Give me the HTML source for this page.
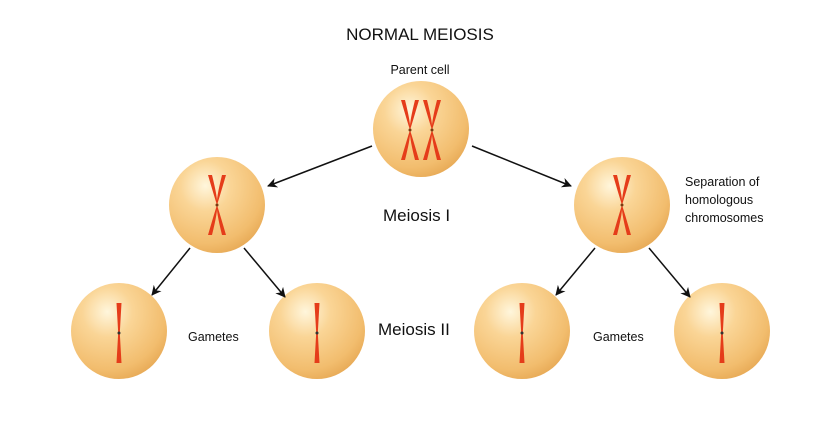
<!DOCTYPE html>
<html><head><style>body{margin:0;background:#fff}svg{display:block}</style></head><body>
<svg width="819" height="432" viewBox="0 0 819 432" xmlns="http://www.w3.org/2000/svg" font-family="Liberation Sans, sans-serif">
<defs>
<radialGradient id="g" cx="0.38" cy="0.3" r="0.75">
<stop offset="0" stop-color="#fff6dc"/><stop offset="0.35" stop-color="#fad596"/><stop offset="0.8" stop-color="#f2bd6e"/><stop offset="1" stop-color="#e7a955"/>
</radialGradient>
<marker id="a" markerWidth="10" markerHeight="10" refX="9" refY="5" orient="auto" markerUnits="userSpaceOnUse"><path d="M0,0 L10,5 L0,10 L3,5z" fill="#111"/></marker>
<g id="x"><path d="M-9,-30 Q-2,-6 0,0 Q-2,6 -9,30 L-5,30 Q1,6 0,0 Q1,-6 -5,-30z" fill="#e53c1a"/><path d="M9,-30 Q2,-6 0,0 Q2,6 9,30 L5,30 Q-1,6 0,0 Q-1,-6 5,-30z" fill="#e53c1a"/><circle r="1.5" fill="#7a3a10"/></g>
<g id="b"><path d="M-2.5,-30 L2.5,-30 L0.8,0 L2.5,30 L-2.5,30 L-0.8,0z" fill="#e53c1a"/><circle r="1.5" fill="#333"/></g>
</defs>
<text x="420" y="40" font-size="17" text-anchor="middle" fill="#111">NORMAL MEIOSIS</text>
<text x="420" y="74" font-size="12.5" text-anchor="middle" fill="#111">Parent cell</text>
<g fill="url(#g)">
<circle cx="421" cy="129" r="48"/><circle cx="217" cy="205" r="48"/><circle cx="622" cy="205" r="48"/>
<circle cx="119" cy="331" r="48"/><circle cx="317" cy="331" r="48"/><circle cx="522" cy="331" r="48"/><circle cx="722" cy="331" r="48"/>
</g>
<use href="#x" x="410" y="130"/><use href="#x" x="432" y="130"/>
<use href="#x" x="217" y="205"/><use href="#x" x="622" y="205"/>
<use href="#b" x="119" y="333"/><use href="#b" x="317" y="333"/><use href="#b" x="522" y="333"/><use href="#b" x="722" y="333"/>
<g stroke="#111" stroke-width="1.5" marker-end="url(#a)">
<line x1="372" y1="146" x2="268" y2="186"/><line x1="472" y1="146" x2="571" y2="186"/>
<line x1="190" y1="248" x2="152" y2="295"/><line x1="244" y1="248" x2="285" y2="297"/>
<line x1="595" y1="248" x2="556" y2="295"/><line x1="649" y1="248" x2="690" y2="297"/>
</g>
<text x="383" y="221" font-size="17" fill="#111">Meiosis I</text>
<text x="378" y="335" font-size="17" fill="#111">Meiosis II</text>
<text x="188" y="341" font-size="12.5" fill="#111">Gametes</text>
<text x="593" y="341" font-size="12.5" fill="#111">Gametes</text>
<text font-size="12.5" fill="#111"><tspan x="685" y="186">Separation of</tspan><tspan x="685" y="204">homologous</tspan><tspan x="685" y="222">chromosomes</tspan></text>
</svg>
</body></html>
